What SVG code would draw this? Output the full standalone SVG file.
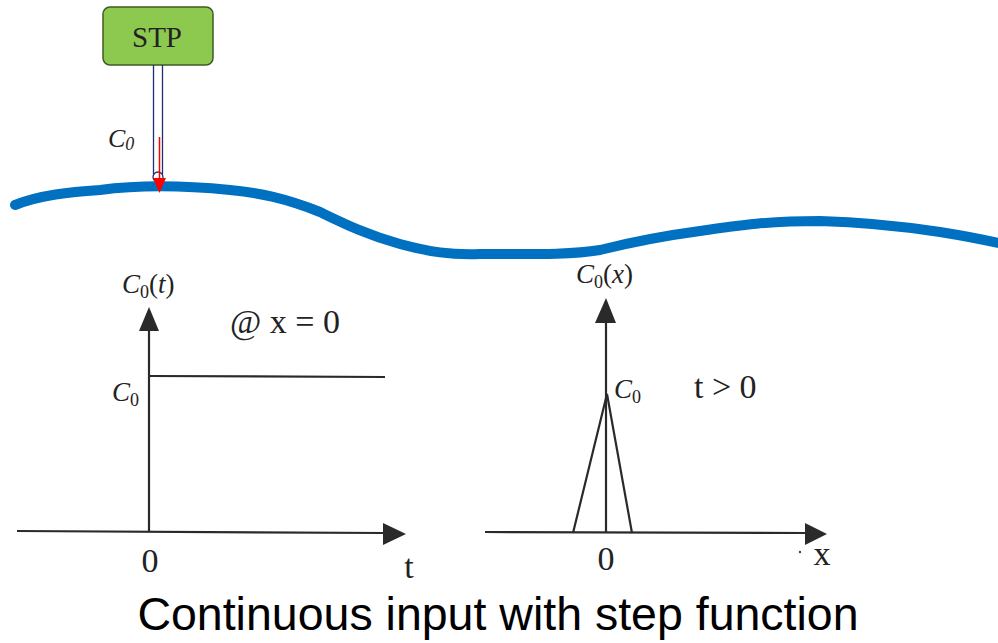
<svg xmlns="http://www.w3.org/2000/svg" width="998" height="643" viewBox="0 0 998 643">
<defs>
<style>
.ax{stroke:#2a2a2a;stroke-width:2.2;fill:none}
.tx{font-family:"Liberation Serif","DejaVu Serif",serif;fill:#222}
.it{font-style:italic}
</style>
</defs>
<rect width="998" height="643" fill="#fff"/>
<g id="river">
<path d="M15,205 C40,195 70,192 100,190 C130,186 170,184 230,190 C260,193 285,198 320,212 C345,224 365,234 400,244 C430,252 450,255 480,254 C530,254 570,255 600,250 C640,240 670,235 700,231 C740,225 770,221 820,221 C860,222 900,226 940,232 C965,236 985,240 998,243" fill="none" stroke="#0070c0" stroke-width="10" stroke-linecap="round"/>
</g>
<g id="stp">
<rect x="103" y="7" width="110" height="58" rx="7" fill="#8dc94f" stroke="#3e5c22" stroke-width="1.5"/>
<text x="157" y="47" text-anchor="middle" class="tx" font-size="29" fill="#111">STP</text>
</g>
<g id="connectors">
<line x1="153.5" y1="65" x2="153.5" y2="174" stroke="#1f2f6f" stroke-width="1.3"/>
<line x1="162.5" y1="65" x2="162.5" y2="174" stroke="#1f2f6f" stroke-width="1.3"/>
<circle cx="158" cy="177" r="5" fill="none" stroke="#1f2f6f" stroke-width="1.3"/>
<line x1="159.5" y1="137" x2="159.5" y2="180" stroke="#ff0000" stroke-width="1.5"/>
<path d="M153,178 L166,178 L159.5,193 z" fill="#ff0000"/>
</g>
<g id="c0-label">
<text x="108" y="147" class="tx it" font-size="26">C<tspan font-size="18" dy="3">0</tspan></text>
</g>
<g id="chart-left">
<line x1="149" y1="532" x2="149" y2="330" class="ax"/>
<path d="M139,331 L149,307 L159,331 z" fill="#2a2a2a"/>
<line x1="17" y1="531" x2="385" y2="533" class="ax"/>
<path d="M383,523 L406,534 L383,545 z" fill="#2a2a2a"/>
<line x1="149" y1="376" x2="385" y2="377" class="ax"/>
<text x="122" y="293" class="tx" font-size="27"><tspan class="it">C</tspan><tspan font-size="18" dy="5">0</tspan><tspan dy="-5">(</tspan><tspan class="it">t</tspan>)</text>
<text x="230" y="333" class="tx" font-size="34">@ x = 0</text>
<text x="112" y="401" class="tx" font-size="27"><tspan class="it">C</tspan><tspan font-size="18" dy="5">0</tspan></text>
<text x="150" y="572" text-anchor="middle" class="tx" font-size="34">0</text>
<text x="409" y="578" text-anchor="middle" class="tx" font-size="34">t</text>
</g>
<g id="chart-right">
<line x1="606" y1="532" x2="606" y2="322" class="ax"/>
<path d="M595,323 L606,298 L616,323 z" fill="#2a2a2a"/>
<line x1="485" y1="532" x2="806" y2="533" class="ax"/>
<path d="M805,523 L827,534 L805,545 z" fill="#2a2a2a"/>
<polyline points="573,533 607,394 632,533" class="ax"/>
<text x="576" y="283" class="tx" font-size="27"><tspan class="it">C</tspan><tspan font-size="18" dy="5">0</tspan><tspan dy="-5">(</tspan><tspan class="it">x</tspan>)</text>
<text x="614" y="398" class="tx" font-size="27"><tspan class="it">C</tspan><tspan font-size="18" dy="5">0</tspan></text>
<text x="694" y="398" class="tx" font-size="34">t &gt; 0</text>
<text x="606" y="570" text-anchor="middle" class="tx" font-size="34">0</text>
<text x="822" y="565" text-anchor="middle" class="tx" font-size="34">x</text>
<circle cx="800" cy="552" r="1.2" fill="#444"/>
</g>
<g id="caption">
<text x="498" y="630" text-anchor="middle" font-family="Liberation Sans, Arial, sans-serif" font-size="46.5" fill="#000">Continuous input with step function</text>
</g>
</svg>
